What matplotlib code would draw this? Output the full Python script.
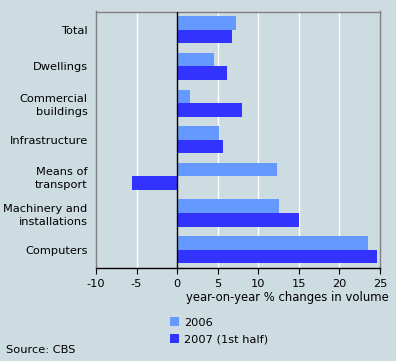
import numpy as np
import matplotlib.pyplot as plt

categories = ["Total", "Dwellings", "Commercial\nbuildings", "Infrastructure",
              "Means of\ntransport", "Machinery and\ninstallations", "Computers"]
values_2006 = [7.2, 4.5, 1.6, 5.1, 12.3, 12.6, 23.5]
values_2007 = [6.7, 6.2, 8.0, 5.6, -5.6, 15.0, 24.6]
series_names = ["2006", "2007 (1st half)"]

bg = "#cddce1"
light = "#6699ff"
dark = "#3333ff"

plt.rcParams['font.family'] = ['DejaVu Sans']
plt.rcParams['axes.unicode_minus'] = False
fig = plt.figure(figsize=(3.96, 3.61), dpi=100, facecolor=bg)
ax = fig.add_axes([96/396, 1 - 268/361, 284/396, 256.5/361], facecolor=bg)

y = np.arange(len(categories))
h = 0.37
ax.barh(y - h/2, values_2006, height=h, color=light, label=series_names[0], zorder=3)
ax.barh(y + h/2, values_2007, height=h, color=dark, label=series_names[1], zorder=3)

ax.set_xlim(-10, 25)
ax.set_ylim(len(categories) - 0.5, -0.5)
ax.set_xticks(np.arange(-10, 26, 5))
ax.set_yticks(y)
ax.set_yticklabels(categories, fontsize=8.2, linespacing=1.35)
ax.tick_params(axis='y', length=0, pad=6)
ax.tick_params(axis='x', labelsize=8.2, length=4, direction='out', color='black', pad=4)

for gx in [-5, 5, 10, 15, 20]:
    ax.axvline(gx, color='white', lw=1, zorder=1)
ax.axvline(0, color='black', lw=1, zorder=4)

for s in ['left', 'right', 'top']:
    ax.spines[s].set_color('#808080')
    ax.spines[s].set_linewidth(1)
ax.spines['bottom'].set_color('black')
ax.spines['bottom'].set_linewidth(1)

ax.set_xlabel("year-on-year % changes in volume", fontsize=8.4)
ax.xaxis.set_label_coords(389/396, 1 - 298/361, transform=fig.transFigure)
ax.xaxis.label.set_horizontalalignment('right')
ax.xaxis.label.set_verticalalignment('center')

fig.legend(loc='upper left', bbox_to_anchor=(160/396, 1 - 307/361), frameon=False,
           fontsize=8.2, handlelength=0.8, handleheight=0.8, handletextpad=0.4,
           labelspacing=0.6)

fig.text(6/396, 1 - 350/361, "Source: CBS", fontsize=8.2, va='center')

fig.savefig("out.png", dpi=100, facecolor=bg)
